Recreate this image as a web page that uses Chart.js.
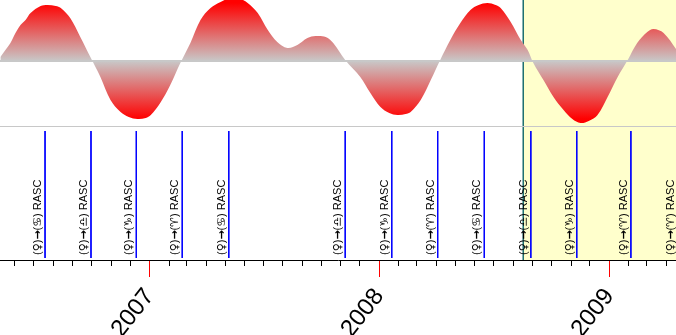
<!DOCTYPE html>
<html>
<head>
<meta charset="utf-8">
<title>Transit RASC</title>
<script src="https://cdn.jsdelivr.net/npm/chart.js@4.4.1/dist/chart.umd.min.js"></script>
<style>
	body { margin: 0; background: #fff; }
	canvas { display: block; }
</style>
</head>
<body>
<canvas id="transit" width="676" height="335"></canvas>
<script>
// all x values are days counted from 1 Jan 2007
function day(s) {
	var p = s.split('-');
	return (Date.UTC(+p[0], p[1] - 1, +p[2]) - Date.UTC(2007, 0, 1)) / 864e5;
}

//////////////////// wave ////////////////////
var waveDays = [-237, -229, -221, -213, -205, -197, -189, -173, -162, -149, -141, -126, -110, -94, -78, -62, -46, -33, -19, -6,
	2, 17, 33, 49, 65, 81, 97, 113, 132, 145, 156, 172, 188, 203, 219, 235, 251, 264, 280, 292,
	311, 335, 351, 367, 381, 394, 407, 415, 431, 447, 462, 478, 494, 510, 523, 537, 550, 558, 574, 590,
	601, 610, 626, 642, 658, 672, 685, 698, 712, 728, 744, 760, 775, 791, 801, 817, 838];
var waveValues = [4, 11, 18, 28, 36, 41, 48, 55, 56, 55, 53, 43, 24, 4, -16, -39, -51, -56, -58, -57,
	-54, -42, -24, -2, 18, 41, 53, 59, 64, 62, 58, 48, 31, 19, 13, 16, 23, 25, 24, 18,
	1, -16, -32, -46, -52, -54, -53, -51, -39, -19, 1, 21, 38, 51, 56, 58, 56, 53, 39, 21,
	11, -2, -19, -36, -49, -58, -62, -60, -54, -36, -16, 1, 18, 29, 32, 28, 11];

//////////////////// events ////////////////////
var eventDates = ['2006-07-19', '2006-09-30', '2006-12-11', '2007-02-22', '2007-05-07', '2007-11-08', '2008-01-21',
	'2008-04-03', '2008-06-16', '2008-08-29', '2008-11-10', '2009-02-04', '2009-04-20'];
var eventSigns = ['♋', '♎', '♑', '♈', '♋', '♎', '♑', '♈', '♋', '♎', '♑', '♈', '♈'];
var eventColors = ['#0000ff', '#0000ff', '#0000ff', '#0000ff', '#0000ff', '#0000ff', '#0000ff',
	'#0000ff', '#0000ff', '#0000ff', '#0000ff', '#0000ff', '#0000ff'];

var yearLabels = ['2007', '2008', '2009'];
var highlightFrom = '2008-08-17';

var X_MIN = -237.6, X_MAX = 836.7;
var Y_TOP = 61, Y_BOTTOM = -199;
var SEP = -65.5;              // line between wave and event panel
var EV_TOP = -70, EV_BOTTOM = -197, EV_TEXT = -194;

var SANS = '11px "Liberation Sans", Arial, sans-serif';
var SYM = '11px "DejaVu Sans", sans-serif';
var SYM_B = 'bold 11px "DejaVu Sans", sans-serif';

function waveFill(context) {
	var chart = context.chart;
	if (!chart.chartArea) return '#e06060';
	var ys = chart.scales.y;
	var g = chart.ctx.createLinearGradient(0, ys.getPixelForValue(58), 0, ys.getPixelForValue(-58));
	g.addColorStop(0, '#ff0000');
	g.addColorStop(0.5, '#c8c8c8');
	g.addColorStop(1, '#ff0000');
	return g;
}

function hline(v, color, width, order) {
	return {
		data: [{x: X_MIN, y: v}, {x: X_MAX, y: v}],
		borderColor: color, borderWidth: width, pointRadius: 0, fill: false, order: order
	};
}

var datasets = [];
datasets.push({
	data: [{x: day(highlightFrom), y: Y_TOP}, {x: X_MAX + 20, y: Y_TOP}],
	borderWidth: 0, pointRadius: 0, fill: 'start', backgroundColor: '#ffffcc', order: 9
});
datasets.push({
	data: [{x: day(highlightFrom), y: Y_TOP}, {x: day(highlightFrom), y: Y_BOTTOM}],
	borderColor: '#1f6f6f', borderWidth: 1, pointRadius: 0, fill: false, order: 8
});
datasets.push({
	data: waveDays.map(function(d, i) { return {x: d, y: waveValues[i]}; }),
	borderWidth: 0, pointRadius: 0, fill: 'origin', backgroundColor: waveFill,
	tension: 0.35, order: 7
});
datasets.push(hline(0, '#c8c8c8', 2, 6));
datasets.push(hline(SEP, '#c8c8c8', 1, 6));
eventDates.forEach(function(d, i) {
	datasets.push({
		data: [{x: day(d), y: EV_TOP}, {x: day(d), y: EV_BOTTOM}],
		borderColor: eventColors[i], borderWidth: 1, pointRadius: 0, fill: false, order: 1
	});
});

var monthTicks = [];
for (var y = 2006; y <= 2009; y++) {
	for (var m = 1; m < 12; m++) {
		var v = (Date.UTC(y, m, 1) - Date.UTC(2007, 0, 1)) / 864e5;
		if (v > X_MIN && v < X_MAX) monthTicks.push({value: v});
	}
}

// text runs: plain letters in the sans face, glyphs from DejaVu
function labelRuns(sign) {
	return [['(', SANS], ['♀', SYM], [')', SANS], ['→', SYM_B], ['(', SANS], [sign, SYM], [') RASC', SANS]];
}

var eventLabels = {
	id: 'eventLabels',
	afterDatasetsDraw: function(chart) {
		var ctx = chart.ctx, xs = chart.scales.x, ys = chart.scales.y;
		ctx.save();
		ctx.fillStyle = '#000';
		ctx.textBaseline = 'alphabetic';
		ctx.textAlign = 'left';
		eventDates.forEach(function(d, i) {
			ctx.save();
			ctx.translate(xs.getPixelForValue(day(d)) - 4, ys.getPixelForValue(EV_TEXT));
			ctx.rotate(-Math.PI / 2);
			var pos = 0;
			labelRuns(eventSigns[i]).forEach(function(r) {
				ctx.font = r[1];
				ctx.fillText(r[0], pos, 0);
				pos += ctx.measureText(r[0]).width;
			});
			ctx.restore();
		});
		ctx.restore();
	}
};

var transit = new Chart(document.getElementById('transit').getContext('2d'), {
	type: 'line',
	data: { datasets: datasets },
	plugins: [eventLabels],
	options: {
		responsive: false,
		animation: false,
		layout: { padding: 0 },
		plugins: { legend: { display: false }, tooltip: { enabled: false } },
		scales: {
			x: {
				type: 'linear', min: X_MIN, max: X_MAX,
				afterBuildTicks: function(s) {
					s.ticks = yearLabels.map(function(yr) { return {value: day(yr + '-01-01')}; });
				},
				afterFit: function(s) { s.height = 75; },
				grid: { drawOnChartArea: false, tickLength: 17, tickColor: '#ff0000', tickWidth: 1 },
				border: { color: '#000', width: 1 },
				ticks: {
					autoSkip: false, minRotation: 52, maxRotation: 52, padding: 6, color: '#000',
					font: { family: '"Liberation Sans", Arial, sans-serif', size: 24 },
					callback: function(v, i) { return yearLabels[i]; }
				}
			},
			xm: {
				type: 'linear', min: X_MIN, max: X_MAX, position: { y: Y_BOTTOM },
				afterBuildTicks: function(s) { s.ticks = monthTicks.slice(); },
				grid: { drawOnChartArea: false, tickLength: 6, tickColor: '#000', tickWidth: 1 },
				border: { display: false },
				ticks: { display: false }
			},
			y: { type: 'linear', min: Y_BOTTOM, max: Y_TOP, display: false }
		}
	}
});
</script>
</body>
</html>
